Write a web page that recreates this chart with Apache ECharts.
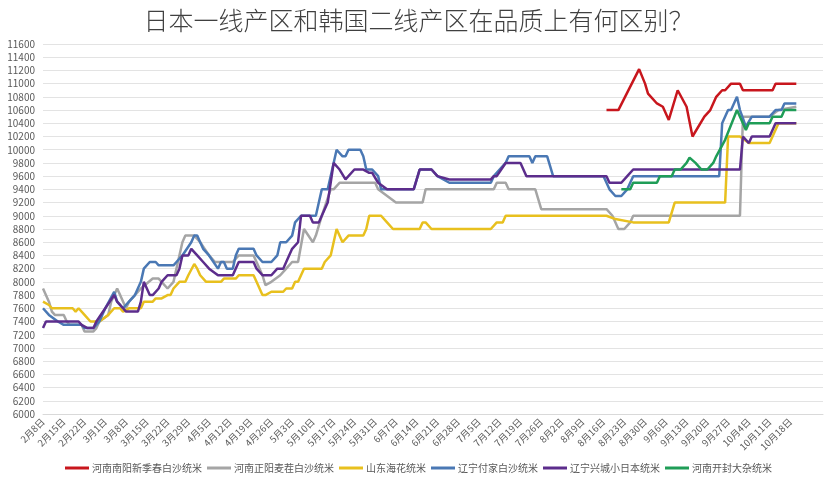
<!DOCTYPE html>
<html>
<head>
<meta charset="utf-8">
<script src="https://cdn.jsdelivr.net/npm/echarts@6/dist/echarts.min.js"></script>
<style>
html,body{margin:0;padding:0;background:#fff;}
#chart{width:837px;height:500px;}
</style>
</head>
<body>
<div id="chart"></div>
<script>
// x values are day offsets from 2月8日 (2021); tick labels every 7 days
const xLabels = ['2月8日','2月15日','2月22日','3月1日','3月8日','3月15日','3月22日','3月29日','4月5日','4月12日','4月19日','4月26日','5月3日','5月10日','5月17日','5月24日','5月31日','6月7日','6月14日','6月21日','6月28日','7月5日','7月12日','7月19日','7月26日','8月2日','8月9日','8月16日','8月23日','8月30日','9月6日','9月13日','9月20日','9月27日','10月4日','10月11日','10月18日'];

const seriesNames = ['河南南阳新季春白沙统米','河南正阳麦茬白沙统米','山东海花统米','辽宁付家白沙统米','辽宁兴城小日本统米','河南开封大杂统米'];

const nanyang = [[190,10600],[194,10600],[201,11220],[203,11000],[204,10850],[207,10700],[209,10650],[211,10450],[214,10900],[217,10650],[219,10200],[223,10500],[225,10600],[227,10800],[229,10900],[230,10900],[232,11000],[235,11000],[236,10900],[246,10900],[247,11000],[254,11000]];

const zhengyang = [[0,7900],[2,7700],[3,7550],[4,7500],[7,7500],[8,7400],[9,7350],[13,7350],[14,7250],[17,7250],[18,7300],[19,7400],[22,7500],[23,7700],[25,7900],[26,7800],[28,7600],[29,7700],[31,7800],[33,7900],[37,8050],[39,8050],[42,7900],[44,8000],[45,8200],[47,8600],[48,8700],[51,8700],[53,8600],[56,8400],[58,8300],[64,8300],[66,8400],[71,8400],[72,8300],[74,8100],[75,7950],[77,8000],[80,8100],[82,8200],[84,8300],[86,8300],[88,8800],[91,8600],[92,8700],[94,9000],[97,9400],[98,9400],[100,9500],[112,9500],[113,9400],[119,9200],[128,9200],[129,9400],[152,9400],[153,9500],[156,9500],[157,9400],[166,9400],[168,9100],[190,9100],[192,9000],[194,8800],[196,8800],[198,8900],[199,9000],[235,9000],[236,10500],[245,10500],[248,10600],[254,10650]];

const haihua = [[0,7700],[2,7650],[3,7600],[10,7600],[11,7550],[12,7600],[14,7500],[16,7400],[19,7400],[22,7500],[24,7600],[26,7600],[27,7550],[29,7600],[33,7600],[34,7700],[37,7700],[38,7750],[40,7750],[42,7800],[43,7800],[44,7900],[46,8000],[48,8000],[49,8100],[51,8270],[52,8200],[53,8100],[55,8000],[60,8000],[61,8050],[65,8050],[66,8100],[71,8100],[72,8000],[74,7800],[75,7800],[77,7850],[81,7850],[82,7900],[84,7900],[85,8000],[86,8000],[87,8100],[88,8200],[94,8200],[95,8300],[97,8400],[99,8800],[101,8600],[103,8700],[108,8700],[109,8800],[110,9000],[114,9000],[116,8900],[118,8800],[127,8800],[128,8900],[129,8900],[131,8800],[151,8800],[153,8900],[155,8900],[156,9000],[190,9000],[193,8950],[199,8900],[211,8900],[213,9200],[230,9200],[231,10200],[235,10200],[238,10100],[245,10100],[248,10400],[254,10400]];

const fujia = [[0,7600],[2,7500],[5,7400],[7,7350],[13,7350],[14,7300],[17,7300],[19,7400],[21,7600],[24,7850],[25,7700],[27,7600],[29,7700],[31,7800],[33,8000],[34,8200],[36,8300],[38,8300],[39,8250],[44,8250],[45,8300],[47,8400],[50,8600],[51,8700],[52,8700],[53,8600],[54,8500],[56,8400],[59,8200],[60,8300],[61,8300],[62,8200],[64,8200],[65,8400],[66,8500],[71,8500],[72,8400],[74,8300],[77,8300],[79,8400],[80,8600],[82,8600],[84,8700],[85,8900],[87,9000],[92,9000],[93,9200],[94,9400],[96,9400],[98,9800],[99,10000],[101,9900],[102,9900],[103,10000],[107,10000],[108,9900],[109,9700],[111,9700],[113,9600],[114,9400],[125,9400],[127,9700],[131,9700],[133,9600],[137,9500],[151,9500],[152,9600],[156,9800],[157,9900],[164,9900],[165,9800],[166,9900],[170,9900],[172,9600],[189,9600],[191,9400],[193,9300],[195,9300],[197,9400],[198,9500],[199,9600],[228,9600],[229,10400],[231,10600],[232,10600],[234,10800],[235,10600],[237,10350],[239,10500],[245,10500],[247,10600],[249,10600],[250,10700],[254,10700]];

const xingcheng = [[0,7300],[1,7400],[12,7400],[13,7350],[15,7300],[17,7300],[18,7400],[21,7600],[24,7800],[25,7700],[27,7600],[28,7550],[32,7550],[33,7700],[34,8000],[36,7800],[37,7800],[39,7900],[40,8000],[42,8100],[45,8100],[46,8200],[47,8400],[49,8400],[50,8500],[52,8400],[54,8300],[56,8200],[59,8100],[64,8100],[66,8300],[71,8300],[72,8200],[74,8100],[77,8100],[79,8200],[81,8200],[82,8300],[84,8500],[86,8600],[87,9000],[90,9000],[91,8900],[93,8900],[94,9000],[96,9200],[97,9500],[98,9800],[100,9700],[102,9550],[105,9700],[108,9700],[110,9650],[111,9650],[113,9500],[116,9400],[125,9400],[127,9700],[131,9700],[133,9600],[137,9550],[151,9550],[152,9600],[153,9600],[156,9800],[161,9800],[163,9600],[190,9600],[191,9500],[195,9500],[197,9600],[199,9700],[235,9700],[236,10200],[238,10100],[239,10200],[245,10200],[247,10400],[254,10400]];

const kaifeng = [[195,9400],[198,9400],[199,9500],[207,9500],[208,9600],[212,9600],[213,9700],[215,9700],[217,9800],[218,9880],[220,9800],[222,9700],[224,9700],[226,9800],[227,9900],[230,10150],[234,10600],[237,10300],[238,10400],[245,10400],[246,10500],[249,10500],[250,10600],[254,10600]];

const yTicks = {min: 6000, max: 11600, step: 200};
const colors = ['#c8161d','#a5a5a5','#e8c01e','#4a78b4','#5c2d8c','#1f9d57'];
const seriesData = [nanyang, zhengyang, haihua, fujia, xingcheng, kaifeng];

const chart = echarts.init(document.getElementById('chart'), null, {renderer: 'canvas'});
const font = '"Noto Sans CJK SC", "Noto Sans", sans-serif';
chart.setOption({
  backgroundColor: '#ffffff',
  animation: false,
  color: colors,
  textStyle: {fontFamily: font},
  title: {
    text: '日本一线产区和韩国二线产区在品质上有何区别？',
    left: 'center',
    top: 3,
    textStyle: {fontSize: 25, fontWeight: 300, color: '#404040', fontFamily: font}
  },
  legend: {
    data: seriesNames,
    bottom: 22,
    left: 'center',
    icon: 'rect',
    itemWidth: 24,
    itemHeight: 3,
    itemGap: 5,
    textStyle: {fontSize: 10, color: '#595959', fontFamily: font, padding: [0, 0, 0, -2]}
  },
  grid: {left: 43, right: 14, top: 44, bottom: 86, containLabel: false},
  xAxis: {
    type: 'value',
    min: 0,
    max: 263,
    interval: 7,
    axisLine: {show: true, lineStyle: {color: '#d9d9d9', width: 1}},
    axisTick: {show: false},
    splitLine: {show: false},
    axisLabel: {
      rotate: 45,
      fontSize: 9.5,
      color: '#595959',
      margin: 6,
      showMaxLabel: true,
      formatter: function (v) {
        const i = v / 7;
        return (Number.isInteger(i) && i < xLabels.length) ? xLabels[i] : '';
      }
    }
  },
  yAxis: {
    type: 'value',
    min: yTicks.min,
    max: yTicks.max,
    interval: yTicks.step,
    axisLine: {show: false},
    axisTick: {show: false},
    splitLine: {show: true, lineStyle: {color: '#e3e3e3', width: 1}},
    axisLabel: {fontSize: 10, color: '#595959', margin: 8, formatter: function (v) { return String(v); }}
  },
  series: seriesNames.map(function (name, i) {
    return {
      name: name,
      type: 'line',
      data: seriesData[i],
      showSymbol: false,
      symbol: 'none',
      smooth: false,
      lineStyle: {width: 2.5, color: colors[i]},
      itemStyle: {color: colors[i]}
    };
  })
});
</script>
</body>
</html>
